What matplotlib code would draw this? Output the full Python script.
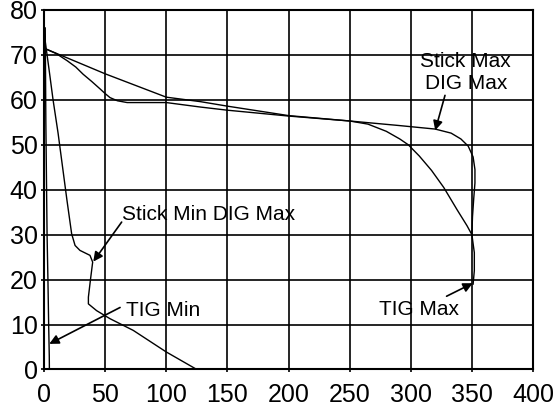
import matplotlib
matplotlib.use("Agg")
import matplotlib.pyplot as plt

plt.rcParams['font.family'] = ['Liberation Sans', 'DejaVu Sans']

# curves (x = amps, y = volts)
tig_min_x = [1.0, 1.5, 2.5, 3.2, 3.8, 4.3, 4.4]
tig_min_y = [76, 55, 30, 20, 10, 3, 0]

stick_min_x = [0, 4, 7.4, 11.5, 18.8, 22.6, 25.4, 29.4, 37.6, 39.8, 38, 36.3, 36.3, 43, 54, 73, 100, 125]
stick_min_y = [75, 67, 60, 52.6, 37.6, 30.2, 27.6, 26.5, 25.4, 23.9, 20, 16.1, 14.6, 13.1, 11.3, 8.7, 3.9, 0]

stick_max_x = [0, 50, 100, 128, 150, 200, 250, 290, 320, 333, 341, 347, 351, 352.5, 352.5, 351.5, 350.5, 350]
stick_max_y = [71.5, 65.8, 60.6, 59.6, 58.6, 56.5, 55.3, 54.3, 53.5, 52.6, 51.3, 49.7, 47.3, 44.5, 41.5, 38, 34, 30]

tig_max_x = [0, 10, 19, 26, 32, 39, 46, 50, 54, 60, 68, 100, 128, 150, 200, 250, 265, 280, 291, 298, 307, 317, 327, 338, 346, 350, 352, 352, 351]
tig_max_y = [71.5, 70.3, 68.7, 67.3, 65.7, 64.1, 62.4, 61.4, 60.5, 59.8, 59.4, 59.4, 58.4, 57.7, 56.4, 55.3, 54.6, 53, 51.3, 50, 47.5, 44.3, 40.5, 35.5, 32, 30, 26, 22, 19]

x_ticks = [0, 50, 100, 150, 200, 250, 300, 350, 400]
y_ticks = [0, 10, 20, 30, 40, 50, 60, 70, 80]

fig = plt.figure(figsize=(5.6, 4.11), dpi=100)
ax = fig.add_axes([0.0786, 0.101, 0.8732, 0.8747])

for xs, ys in [(tig_min_x, tig_min_y), (stick_min_x, stick_min_y),
               (stick_max_x, stick_max_y), (tig_max_x, tig_max_y)]:
    ax.plot(xs, ys, color="black", lw=1.0)

ax.set_xlim(0, 400)
ax.set_ylim(0, 80)
ax.set_xticks(x_ticks)
ax.set_yticks(y_ticks)
ax.grid(True, color="black", lw=1.2)
ax.set_axisbelow(True)
for s in ax.spines.values():
    s.set_color("black")
    s.set_linewidth(1.5)
ax.tick_params(axis="both", direction="out", length=2.5, width=1.2, labelsize=18, colors="black")
ax.tick_params(axis="x", pad=7)
ax.tick_params(axis="y", pad=2)

arrow = dict(arrowstyle="-|>", color="black", lw=1.2, mutation_scale=14, shrinkA=0, shrinkB=0)
fs = 15

ax.text(345, 66.1, "Stick Max\nDIG Max", ha="center", va="center", fontsize=fs, linespacing=1.25)
ax.annotate("", xy=(320, 53.2), xytext=(328, 61), arrowprops=arrow)

ax.text(306.7, 13.4, "TIG Max", ha="center", va="center", fontsize=fs)
ax.annotate("", xy=(350.7, 19.2), xytext=(329.3, 16.3), arrowprops=arrow)

ax.text(134.4, 34.6, "Stick Min DIG Max", ha="center", va="center", fontsize=fs)
ax.annotate("", xy=(40.3, 24), xytext=(63.5, 32.8), arrowprops=arrow)

ax.text(97.7, 13.2, "TIG Min", ha="center", va="center", fontsize=fs)
ax.annotate("", xy=(4.3, 5.7), xytext=(62.2, 13.8), arrowprops=arrow)

fig.savefig("out.png", dpi=100)
